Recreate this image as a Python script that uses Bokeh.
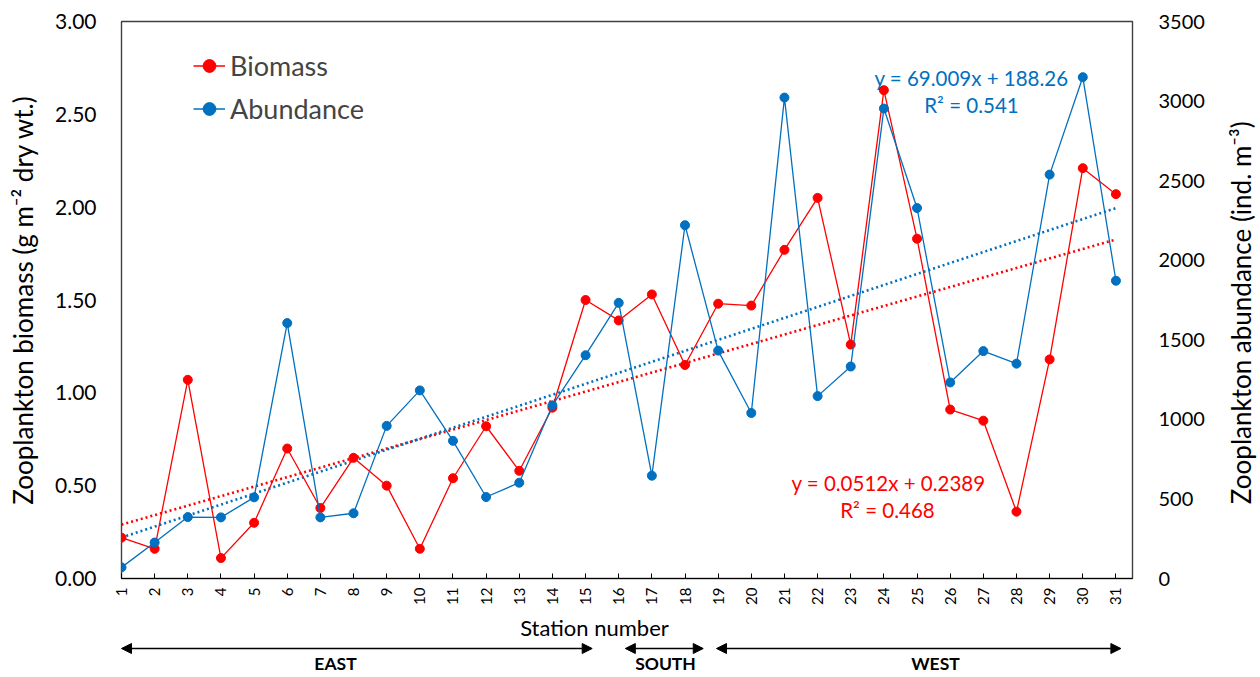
import numpy as np
from bokeh.plotting import figure
from bokeh.layouts import column, row
from bokeh.models import (Range1d, LinearAxis, FixedTicker, NumeralTickFormatter,
                          Legend, LegendItem, Label, Arrow, NormalHead)
from bokeh.embed import file_html
from bokeh.resources import INLINE

# ---- data -------------------------------------------------------------
stations = list(range(1, 32))
biomass = [0.22, 0.16, 1.07, 0.11, 0.30, 0.70, 0.38, 0.65, 0.50, 0.16,
           0.54, 0.82, 0.58, 0.92, 1.50, 1.39, 1.53, 1.15, 1.48, 1.47,
           1.77, 2.05, 1.26, 2.63, 1.83, 0.91, 0.85, 0.36, 1.18, 2.21, 2.07]
abundance = [70, 226, 386, 384, 510, 1605, 384, 410, 959, 1182,
             865, 512, 602, 1088, 1403, 1732, 646, 2220, 1432, 1040,
             3022, 1146, 1332, 2953, 2328, 1232, 1429, 1350, 2538, 3150, 1871]

biomass_slope, biomass_intercept, biomass_r2 = 0.0512, 0.2389, 0.468
abund_slope, abund_intercept, abund_r2 = 69.009, 188.26, 0.541

biomass_ticks = [0.0, 0.5, 1.0, 1.5, 2.0, 2.5, 3.0]
abund_ticks = [0, 500, 1000, 1500, 2000, 2500, 3000, 3500]

regions = ["EAST", "SOUTH", "WEST"]
region_start = [1.0, 16.2, 18.95]
region_end = [15.2, 18.55, 31.15]

RED = "#FF0000"
BLUE = "#0070C0"
FONT = "Lato"

# ---- page geometry (pixels) -------------------------------------------
W, H = 1260, 677
MAIN_W, MAIN_H = 1215, 610          # main chart; a strip on the right, a band below
FL, FR, FT, FB = 121, 1132, 21, 578  # plot frame inside the main chart
X0, X1 = 1.0, 31.5
Y0, Y1 = 0.0, 3.0


def sx(px):
    """page pixel -> station coordinate"""
    return X0 + (px - FL) * (X1 - X0) / (FR - FL)


def sy(py):
    """page pixel -> biomass-axis coordinate"""
    return Y0 + (FB - py) * (Y1 - Y0) / (FB - FT)


p = figure(width=MAIN_W, height=MAIN_H, x_range=Range1d(X0, X1), y_range=Range1d(Y0, Y1),
           output_backend="svg", toolbar_location=None,
           min_border_left=FL, min_border_right=MAIN_W - FR,
           min_border_top=FT, min_border_bottom=MAIN_H - FB)
p.extra_y_ranges = {"abund": Range1d(0, 3500)}
p.xgrid.visible = False
p.ygrid.visible = False
p.outline_line_color = "#404040"
p.outline_line_width = 1.4

# left axis
ya = p.yaxis[0]
ya.ticker = FixedTicker(ticks=biomass_ticks)
ya.formatter = NumeralTickFormatter(format="0.00")
ya.axis_line_color = None
ya.major_tick_line_color = None
ya.minor_tick_line_color = None
ya.major_label_standoff = 19
ya.major_label_text_font = FONT
ya.major_label_text_font_size = "21px"
ya.major_label_text_color = "black"
ya.axis_label = "Zooplankton biomass (g m⁻² dry wt.)"
ya.axis_label_text_font = FONT
ya.axis_label_text_font_size = "26px"
ya.axis_label_text_font_style = "normal"
ya.axis_label_text_color = "black"
ya.axis_label_standoff = 13

# right axis
ra = LinearAxis(y_range_name="abund", ticker=FixedTicker(ticks=abund_ticks),
                formatter=NumeralTickFormatter(format="0"))
ra.axis_line_color = None
ra.major_tick_line_color = None
ra.minor_tick_line_color = None
ra.major_label_standoff = 20
ra.major_label_text_font = FONT
ra.major_label_text_font_size = "20px"
ra.major_label_text_color = "black"
p.add_layout(ra, "right")

# bottom axis
xa = p.xaxis[0]
xa.ticker = FixedTicker(ticks=stations)
xa.major_label_orientation = np.pi / 2
xa.axis_line_color = "black"
xa.axis_line_width = 1.2
xa.major_tick_line_color = "black"
xa.major_tick_in = 5
xa.major_tick_out = 0
xa.minor_tick_line_color = None
xa.major_label_standoff = 9
xa.major_label_text_font = FONT
xa.major_label_text_font_size = "15px"
xa.major_label_text_color = "black"

# linear trend lines from the fitted coefficients
tx = [stations[0], stations[-1]]
p.line(tx, [biomass_slope * v + biomass_intercept for v in tx],
       line_color=RED, line_width=2.6, line_dash="2 3")
p.line(tx, [abund_slope * v + abund_intercept for v in tx], y_range_name="abund",
       line_color=BLUE, line_width=2.6, line_dash="2 3")

# series
bl = p.line(stations, biomass, line_color=RED, line_width=1.3)
bs = p.scatter(stations, biomass, size=9, fill_color=RED, line_color=RED)
al = p.line(stations, abundance, y_range_name="abund", line_color=BLUE, line_width=1.3)
as_ = p.scatter(stations, abundance, y_range_name="abund", size=9,
                fill_color=BLUE, line_color=BLUE)

legend = Legend(items=[LegendItem(label="Biomass", renderers=[bl, bs]),
                       LegendItem(label="Abundance", renderers=[al, as_])],
                location=(72, (FB - FT) - 28 - 76),
                border_line_color=None, background_fill_alpha=0,
                padding=0, margin=0, spacing=10, label_height=33, glyph_height=33,
                glyph_width=32, label_standoff=5,
                label_text_font=FONT, label_text_font_size="27px")
p.add_layout(legend)

# regression equations
for text, cx, by, col in [
        (f"y = {abund_slope:.3f}x + {abund_intercept:.2f}", 971, 77, BLUE),
        (f"R² = {abund_r2:.3f}", 971, 104, BLUE),
        (f"y = {biomass_slope:.4f}x + {biomass_intercept:.4f}", 888, 482, RED),
        (f"R² = {biomass_r2:.3f}", 887, 509, RED)]:
    p.add_layout(Label(x=sx(cx), y=sy(by), text=text, text_color=col,
                       text_font=FONT, text_font_size="20.5px",
                       text_align="center", text_baseline="alphabetic"))

# ---- right strip: title of the abundance axis -------------------------
STRIP_W = W - MAIN_W
strip = figure(width=STRIP_W, height=MAIN_H, x_range=Range1d(MAIN_W, W),
               y_range=Range1d(MAIN_H, 0), output_backend="svg", toolbar_location=None,
               x_axis_location=None, y_axis_location=None, min_border=0)
strip.outline_line_color = None
strip.xgrid.visible = False
strip.ygrid.visible = False
strip.add_layout(Label(x=1240, y=319, text="Zooplankton abundance (ind. m⁻³)",
                       angle=np.pi / 2, text_font=FONT, text_font_size="26px",
                       text_align="center", text_baseline="middle", text_color="black"))

# ---- bottom band: axis title, region arrows and names ------------------
band = figure(width=W, height=H - MAIN_H, x_range=Range1d(sx(0), sx(W)),
              y_range=Range1d(H, MAIN_H), output_backend="svg", toolbar_location=None,
              x_axis_location=None, y_axis_location=None, min_border=0)
band.outline_line_color = None
band.xgrid.visible = False
band.ygrid.visible = False
band.add_layout(Label(x=sx(594), y=627, text="Station number", text_font=FONT,
                      text_font_size="22px", text_align="center",
                      text_baseline="middle", text_color="black"))
name_pos = [sx(335), sx(665), sx(935)]
for name, a, b, nx in zip(regions, region_start, region_end, name_pos):
    band.add_layout(Arrow(x_start=a, y_start=648, x_end=b, y_end=648,
                          line_color="black", line_width=1.6,
                          start=NormalHead(size=10, fill_color="black", line_color="black"),
                          end=NormalHead(size=10, fill_color="black", line_color="black")))
    band.add_layout(Label(x=nx, y=663, text=name, text_font=FONT,
                          text_font_size="17.5px", text_font_style="bold",
                          text_align="center", text_baseline="middle",
                          text_color="black"))

layout = column(row(p, strip, spacing=0), band, spacing=0)
open("out.html", "w").write(file_html(layout, INLINE))
